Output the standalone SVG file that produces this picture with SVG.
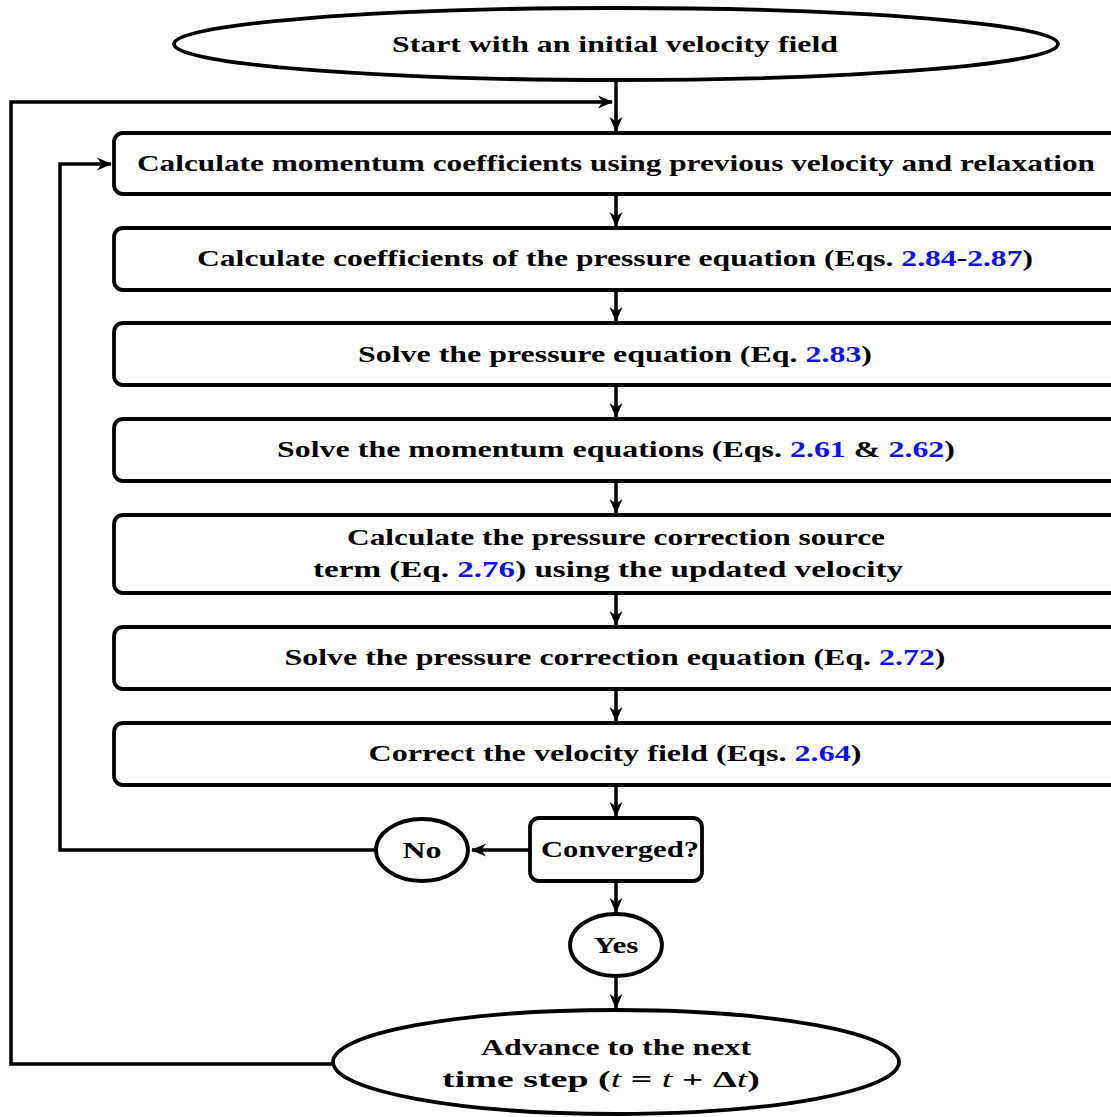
<svg xmlns="http://www.w3.org/2000/svg" width="1111" height="1117" viewBox="0 0 1111 1117">
<style>
  .node { fill: #ffffff; stroke: #000000; stroke-width: 3.8; }
  .lbl { font-family: "Liberation Serif", "DejaVu Serif", serif; font-weight: bold; font-size: 24px; fill: #000000; text-anchor: middle; }
  .ref { fill: #1010ee; }
  .it { font-style: italic; font-weight: normal; }
  .wire { fill: none; stroke: #000000; stroke-width: 3.5; }
</style>
<defs>
  <marker id="arrow" markerUnits="userSpaceOnUse" markerWidth="17" markerHeight="15" refX="14" refY="7.5" orient="auto">
    <path d="M0,1 L15,7.5 L0,14 L4.5,7.5 z" fill="#000000"/>
  </marker>
</defs>
<rect width="1111" height="1117" fill="#ffffff"/>

<g id="connectors">
  <!-- outer time-step loop -->
  <polyline class="wire" points="334,1064 11,1064 11,102 612,102" marker-end="url(#arrow)"/>
  <line class="wire" x1="616" y1="80" x2="616" y2="131" marker-end="url(#arrow)"/>
  <!-- inner iteration loop -->
  <polyline class="wire" points="376,850 60,850 60,164 111,164" marker-end="url(#arrow)"/>
  <line class="wire" x1="529" y1="850" x2="472" y2="850" marker-end="url(#arrow)"/>
  <!-- downward flow -->
  <line class="wire" x1="616" y1="194" x2="616" y2="226" marker-end="url(#arrow)"/>
  <line class="wire" x1="616" y1="291" x2="616" y2="321" marker-end="url(#arrow)"/>
  <line class="wire" x1="616" y1="386" x2="616" y2="417" marker-end="url(#arrow)"/>
  <line class="wire" x1="616" y1="482" x2="616" y2="513" marker-end="url(#arrow)"/>
  <line class="wire" x1="616" y1="594" x2="616" y2="625" marker-end="url(#arrow)"/>
  <line class="wire" x1="616" y1="690" x2="616" y2="721" marker-end="url(#arrow)"/>
  <line class="wire" x1="616" y1="786" x2="616" y2="816" marker-end="url(#arrow)"/>
  <line class="wire" x1="616" y1="882" x2="616" y2="912" marker-end="url(#arrow)"/>
  <line class="wire" x1="616" y1="977" x2="616" y2="1008" marker-end="url(#arrow)"/>
</g>

<g id="start">
  <ellipse class="node" cx="616" cy="44" rx="442" ry="36"/>
  <text class="lbl" x="615" y="52" textLength="446" lengthAdjust="spacingAndGlyphs">Start with an initial velocity field</text>
</g>

<g id="momentum-coefficients">
  <rect class="node" x="114" y="133" width="1020" height="61" rx="9"/>
  <text class="lbl" x="616" y="171" textLength="958" lengthAdjust="spacingAndGlyphs">Calculate momentum coefficients using previous velocity and relaxation</text>
</g>

<g id="pressure-coefficients">
  <rect class="node" x="114" y="228" width="1020" height="62" rx="9"/>
  <text class="lbl" x="615" y="266" textLength="836" lengthAdjust="spacingAndGlyphs">Calculate coefficients of the pressure equation (Eqs. <tspan class="ref">2.84</tspan>-<tspan class="ref">2.87</tspan>)</text>
</g>

<g id="solve-pressure">
  <rect class="node" x="114" y="323" width="1020" height="62" rx="9"/>
  <text class="lbl" x="615" y="362" textLength="514" lengthAdjust="spacingAndGlyphs">Solve the pressure equation (Eq. <tspan class="ref">2.83</tspan>)</text>
</g>

<g id="solve-momentum">
  <rect class="node" x="114" y="419" width="1020" height="62" rx="9"/>
  <text class="lbl" x="616" y="457" textLength="678" lengthAdjust="spacingAndGlyphs">Solve the momentum equations (Eqs. <tspan class="ref">2.61</tspan> &amp; <tspan class="ref">2.62</tspan>)</text>
</g>

<g id="correction-source">
  <rect class="node" x="114" y="515" width="1020" height="78" rx="9"/>
  <text class="lbl" x="616" y="545" textLength="538" lengthAdjust="spacingAndGlyphs">Calculate the pressure correction source</text>
  <text class="lbl" x="608" y="577" textLength="590" lengthAdjust="spacingAndGlyphs">term (Eq. <tspan class="ref">2.76</tspan>) using the updated velocity</text>
</g>

<g id="solve-correction">
  <rect class="node" x="114" y="627" width="1020" height="62" rx="9"/>
  <text class="lbl" x="615" y="665" textLength="661" lengthAdjust="spacingAndGlyphs">Solve the pressure correction equation (Eq. <tspan class="ref">2.72</tspan>)</text>
</g>

<g id="correct-velocity">
  <rect class="node" x="114" y="723" width="1020" height="62" rx="9"/>
  <text class="lbl" x="615" y="761" textLength="493" lengthAdjust="spacingAndGlyphs">Correct the velocity field (Eqs. <tspan class="ref">2.64</tspan>)</text>
</g>

<g id="converged">
  <rect class="node" x="530" y="818" width="172" height="63" rx="9"/>
  <text class="lbl" x="620" y="857" textLength="158" lengthAdjust="spacingAndGlyphs">Converged?</text>
</g>

<g id="no">
  <ellipse class="node" cx="422" cy="850" rx="46" ry="31"/>
  <text class="lbl" x="422" y="858" textLength="39" lengthAdjust="spacingAndGlyphs">No</text>
</g>

<g id="yes">
  <ellipse class="node" cx="616" cy="945" rx="46" ry="31"/>
  <text class="lbl" x="616" y="953" textLength="45" lengthAdjust="spacingAndGlyphs">Yes</text>
</g>

<g id="advance">
  <ellipse class="node" cx="616" cy="1062" rx="283" ry="52"/>
  <text class="lbl" x="616" y="1055" textLength="270" lengthAdjust="spacingAndGlyphs">Advance to the next</text>
  <text class="lbl" x="601" y="1087" textLength="318" lengthAdjust="spacingAndGlyphs">time step (<tspan class="it">t</tspan> = <tspan class="it">t</tspan> + Δ<tspan class="it">t</tspan>)</text>
</g>
</svg>
